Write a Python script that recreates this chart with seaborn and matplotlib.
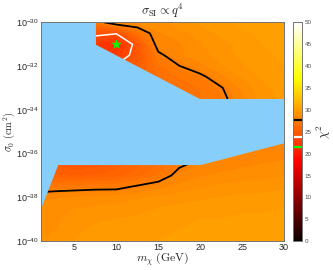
import numpy as np
import matplotlib
matplotlib.use("Agg")
import matplotlib.pyplot as plt
import matplotlib.colors as mcolors
import matplotlib.cm as cm
import seaborn as sns

# ---- data ----
mass_top = [7.5, 10, 12.5, 15, 17.5, 20, 22.5, 25, 27.5, 30]
logsig_top = [-30.0, -30.5, -31.0, -31.5, -32.0, -32.5, -33.0, -33.5]
chi2_top = [
    [27.0, 28.6, 28.6, 28.9, 29.2, 29.6, 29.9, 30.1, 30.3, 30.5],
    [24.2, 23.9, 26.6, 28.4, 28.8, 29.2, 29.6, 29.9, 30.1, 30.3],
    [22.5, 21.5, 24.5, 28.3, 28.4, 28.9, 29.3, 29.7, 30.0, 30.2],
    [23.0, 22.5, 24.6, 27.4, 28.4, 28.8, 29.2, 29.6, 29.9, 30.1],
    [24.0, 24.0, 25.2, 26.8, 27.65, 28.3, 28.9, 29.4, 29.8, 30.0],
    [25.0, 25.0, 25.8, 26.5, 27.0, 27.4, 28.3, 29.0, 29.6, 29.9],
    [26.0, 26.0, 26.0, 26.3, 26.7, 27.0, 27.6, 28.6, 29.3, 29.8],
    [26.5, 26.5, 26.5, 26.5, 26.8, 27.0, 27.4, 28.3, 29.2, 29.7],
]

mass_bot = [1, 2.5, 5, 7.5, 10, 12.5, 15, 17.5, 20, 22.5, 25, 27.5, 30]
logsig_bot = [-35.5, -36.0, -36.5, -37.0, -37.5, -38.0, -38.5, -39.0, -39.5, -40.0]
chi2_bot = [
    [26.0, 26.0, 26.0, 26.0, 26.0, 26.0, 26.5, 27.0, 27.5, 27.8, 28.0, 28.1, 28.2],
    [26.0, 26.0, 26.0, 26.0, 26.0, 26.0, 26.5, 27.0, 27.6, 27.9, 28.1, 28.2, 28.3],
    [25.5, 25.0, 24.6, 24.8, 25.2, 25.8, 26.5, 27.5, 28.0, 28.2, 28.4, 28.5, 28.6],
    [26.0, 25.6, 25.3, 25.5, 25.8, 26.3, 27.0, 28.1, 28.4, 28.6, 28.7, 28.8, 28.9],
    [27.0, 27.1, 27.2, 27.3, 27.3, 27.8, 28.2, 28.6, 28.9, 29.1, 29.2, 29.3, 29.4],
    [28.3, 28.4, 28.5, 28.6, 28.7, 28.9, 29.1, 29.3, 29.4, 29.5, 29.6, 29.6, 29.7],
    [28.8, 28.9, 29.0, 29.1, 29.2, 29.3, 29.5, 29.6, 29.7, 29.8, 29.9, 29.9, 30.0],
    [28.7, 28.9, 29.2, 29.4, 29.5, 29.6, 29.8, 29.9, 30.0, 30.0, 30.1, 30.1, 30.2],
    [28.6, 28.9, 29.4, 29.6, 29.7, 29.8, 29.9, 30.0, 30.1, 30.2, 30.2, 30.3, 30.3],
    [29.0, 29.2, 29.5, 29.7, 29.8, 29.9, 30.0, 30.1, 30.2, 30.3, 30.3, 30.4, 30.4],
]

# excluded (light blue) region boundaries
mask_mass = [1, 3, 7.5, 7.5, 20, 30]
mask_upper = [-30.0, -30.0, -30.0, -31.0, -33.5, -33.5]
mask_lower = [-38.46, -36.5, -36.5, -36.5, -36.5, -35.5]

best_mass = [10]
best_logsig = [-31.0]
chi2_min = 21.5
delta_1sig = 2.30
delta_2sig = 6.18

xticks = [5, 10, 15, 20, 25, 30]
yticks = [-30, -32, -34, -36, -38, -40]
cbar_ticks = list(range(0, 51, 5))

# ---- style ----
sns.set_theme(style="white")
plt.rcParams["font.family"] = ["Liberation Sans", "DejaVu Sans"]
plt.rcParams["mathtext.fontset"] = "cm"

blue = "#87CEFA"
cmap = plt.get_cmap("hot")
norm = mcolors.Normalize(vmin=0, vmax=50)
levels = np.arange(0, 50.5, 0.5)

fig = plt.figure(figsize=(3.33, 2.70), dpi=100)
ax = fig.add_axes([0.123, 0.107, 0.730, 0.810])
ax.set_facecolor(blue)

for mx, ly, z in [(mass_top, logsig_top, chi2_top), (mass_bot, logsig_bot, chi2_bot)]:
    ax.contourf(mx, ly, z, levels=levels, cmap=cmap, norm=norm, zorder=1)
    ax.contour(mx, ly, z, levels=[chi2_min + delta_1sig], colors="white",
               linewidths=1.1, zorder=2)
    ax.contour(mx, ly, z, levels=[chi2_min + delta_2sig], colors="black",
               linewidths=1.3, zorder=2)

ax.fill_between(mask_mass, mask_lower, mask_upper, color=blue, lw=0, zorder=3)

sns.scatterplot(x=best_mass, y=best_logsig, ax=ax, marker="*", s=40,
                color="#00FF00", edgecolor="#00FF00", linewidth=0.5, zorder=5)

ax.set_xlim(1, 30)
ax.set_ylim(-40, -30)
ax.set_xticks(xticks)
ax.set_xticklabels([str(t) for t in xticks], fontsize=6.5)
ax.set_yticks(yticks)
ax.set_yticklabels([r"$\mathregular{10^{%d}}$" % t for t in yticks], fontsize=6.5)
ax.tick_params(direction="in", length=2, width=0.5, color="0.4",
               top=True, right=True, bottom=True, left=True, pad=1.5)
for s in ax.spines.values():
    s.set_color("0.45")
    s.set_linewidth(0.7)
    s.set_zorder(6)

ax.set_xlabel(r"$m_\chi\ (\rm GeV)$", fontsize=8.5, labelpad=-1)
ax.set_ylabel(r"$\sigma_0\ (\rm cm^2)$", fontsize=7.5)
ax.yaxis.set_label_coords(-0.10, 0.5)
ax.set_title(r"$\sigma_{\rm SI} \propto q^4$", fontsize=9, pad=5)

# colorbar
cax = fig.add_axes([0.880, 0.107, 0.027, 0.810])
sm = cm.ScalarMappable(norm=norm, cmap=cmap)
cb = fig.colorbar(sm, cax=cax, ticks=cbar_ticks)
cb.outline.set_edgecolor("0.45")
cb.outline.set_linewidth(0.7)
cax.tick_params(direction="in", length=1.5, width=0.4, color="0.5",
                labelsize=4.5, labelcolor="0.3", pad=2, left=True, right=True)
cax.axhline(chi2_min, color="#00FF00", lw=1.6)
cax.axhline(chi2_min + delta_1sig, color="white", lw=1.6)
cax.axhline(chi2_min + delta_2sig, color="black", lw=1.6)
cb.set_label(r"$\chi^2$", fontsize=9, labelpad=2)

fig.savefig("out.png", dpi=100)
